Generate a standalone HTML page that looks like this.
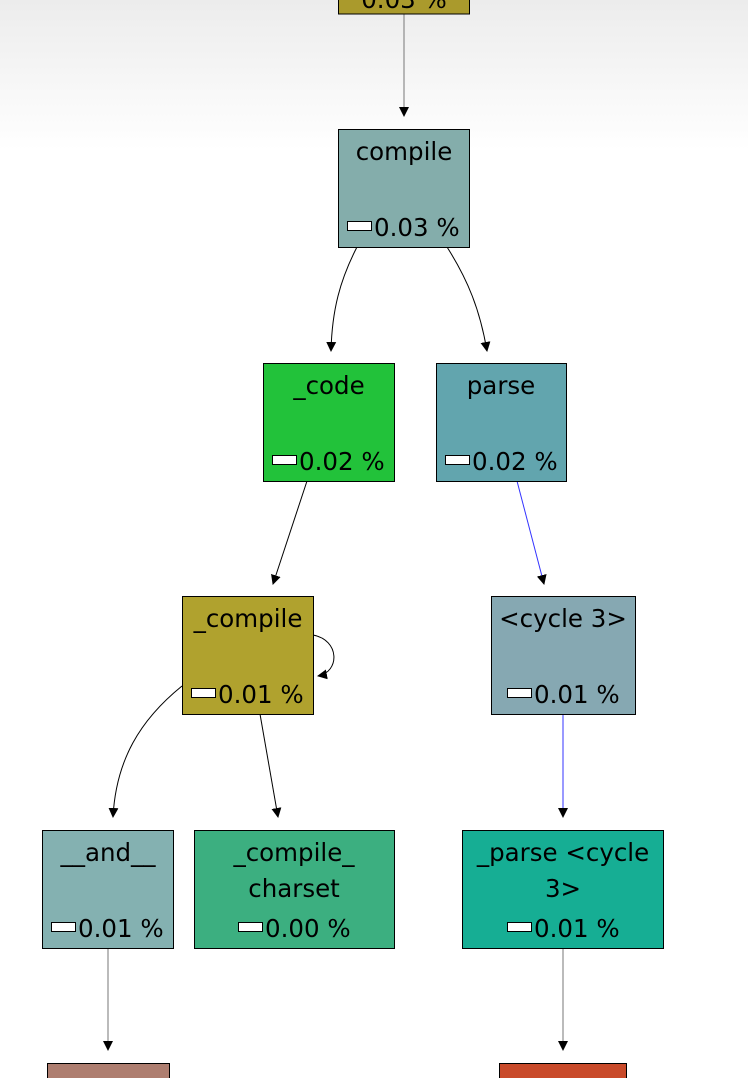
<!DOCTYPE html>
<html><head><meta charset="utf-8"><style>
html,body{margin:0;padding:0;background:#fff;}
svg{display:block}
text{font-family:"DejaVu Sans","Liberation Sans",sans-serif;font-size:24.5px;fill:#000}
</style></head><body>
<svg width="748" height="1078" viewBox="0 0 748 1078" xmlns="http://www.w3.org/2000/svg">
<defs>
<linearGradient id="bg" x1="0" y1="0" x2="0" y2="1">
<stop offset="0" stop-color="#ececec"/><stop offset="1" stop-color="#ffffff"/></linearGradient>
<marker id="ah" markerWidth="10" markerHeight="12" refX="9" refY="6" orient="auto" markerUnits="userSpaceOnUse">
<path d="M0,1 L10,6 L0,11 Z" fill="#000"/></marker>
</defs>
<rect x="0" y="0" width="748" height="150" fill="url(#bg)"/>
<rect x="0" y="150" width="748" height="928" fill="#fff"/>

<g fill="none" stroke="#000" stroke-width="1" marker-end="url(#ah)">
<line x1="404" y1="14" x2="404" y2="116" stroke="#777"/>
<path d="M357,247 C340,280 332,310 331,351"/>
<path d="M447,247 C468,280 480,310 487,351"/>
<path d="M307,481 L273,584"/>
<path d="M517,481 L544,584" stroke="#3333ff"/>
<path d="M313,635 C340,640 340,672 318,676"/>
<path d="M182,686 C140,720 116,760 113,817"/>
<path d="M260,714 L278,817"/>
<line x1="563" y1="714" x2="563" y2="817" stroke="#3333ff"/>
<line x1="108" y1="948" x2="108" y2="1050" stroke="#777"/>
<line x1="563" y1="948" x2="563" y2="1050" stroke="#777"/>
</g>

<g stroke="#000" stroke-width="1">
<rect x="338.5" y="-20" width="131" height="34" fill="#aa9a2c"/>
<rect x="338.5" y="129.5" width="131" height="118" fill="#84adab"/>
<rect x="263.5" y="363.5" width="131" height="118" fill="#22c23a"/>
<rect x="436.5" y="363.5" width="130" height="118" fill="#62a5ae"/>
<rect x="182.5" y="596.5" width="131" height="118" fill="#b0a22e"/>
<rect x="491.5" y="596.5" width="144" height="118" fill="#86a8b2"/>
<rect x="42.5" y="830.5" width="131" height="118" fill="#84b1b1"/>
<rect x="194.5" y="830.5" width="200" height="118" fill="#3caf80"/>
<rect x="462.5" y="830.5" width="201" height="118" fill="#16ae94"/>
<rect x="47.5" y="1063.5" width="122" height="30" fill="#ae7e70"/>
<rect x="499.5" y="1063.5" width="127" height="30" fill="#c94a2a"/>
</g>

<g text-anchor="middle">
<text x="404" y="8">0.03 %</text>
<text x="404" y="160">compile</text>
<text x="329" y="394">_code</text>
<text x="501" y="394">parse</text>
<text x="248" y="627">_compile</text>
<text x="563" y="627">&lt;cycle 3&gt;</text>
<text x="108" y="861">__and__</text>
<text x="294" y="861">_compile_</text>
<text x="294" y="897">charset</text>
<text x="563" y="861">_parse &lt;cycle</text>
<text x="563" y="897">3&gt;</text>
</g>
<g>
<rect x="347.5" y="221.5" width="24" height="9" fill="#fff" stroke="#000"/><text x="374" y="236">0.03 %</text>
<rect x="272.5" y="455.5" width="24" height="9" fill="#fff" stroke="#000"/><text x="299" y="470">0.02 %</text>
<rect x="445.5" y="455.5" width="24" height="9" fill="#fff" stroke="#000"/><text x="472" y="470">0.02 %</text>
<rect x="191.5" y="688.5" width="24" height="9" fill="#fff" stroke="#000"/><text x="218" y="703">0.01 %</text>
<rect x="507.5" y="688.5" width="24" height="9" fill="#fff" stroke="#000"/><text x="534" y="703">0.01 %</text>
<rect x="51.5" y="922.5" width="24" height="9" fill="#fff" stroke="#000"/><text x="78" y="937">0.01 %</text>
<rect x="238.5" y="922.5" width="24" height="9" fill="#fff" stroke="#000"/><text x="265" y="937">0.00 %</text>
<rect x="507.5" y="922.5" width="24" height="9" fill="#fff" stroke="#000"/><text x="534" y="937">0.01 %</text>
</g>
</svg>
</body></html>
